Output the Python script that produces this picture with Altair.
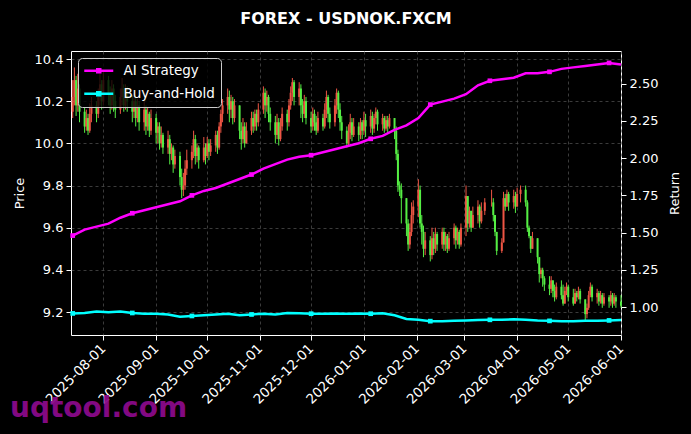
import altair as alt
import pandas as pd

TITLE = "FOREX - USDNOK.FXCM"
WATERMARK = "uqtool.com"
FIRST_DAY, LAST_DAY = "2025-07-14", "2026-06-01"
FIRST_OPEN = 10.15

# daily closes (business days, one row of 5 per week); None = no candle
CLOSE = [
    10.22, 10.30, 10.18, 10.26, 10.15,
    10.08, 10.12, 10.06, 10.14, 10.18,
    10.14, 10.22, 10.28, 10.20, 10.30,
    10.24, 10.18, 10.26, 10.20, 10.16,
    10.22, 10.26, 10.18, 10.24, 10.20,
    10.15, 10.20, 10.12, 10.18, 10.10,
    10.16, 10.08, 10.14, 10.06, 10.12,
    10.05, 10.08, 10.00, 10.04, 9.98,
    10.02, 9.95, 9.98, 9.90, 9.94,
    9.84, 9.78, 9.80, 9.88, 9.92,
    9.96, 10.02, 9.94, 9.98, 9.92,
    9.98, 9.94, 10.00, 9.96, 9.99,
    10.04, 9.98, 10.08, 10.14, 10.18,
    10.22, 10.16, 10.20, 10.12, 10.18,
    10.06, 10.02, 10.08, 10.00, 10.06,
    10.12, 10.08, 10.14, 10.10, 10.16,
    10.24, 10.18, 10.22, 10.14, 10.10,
    10.04, 10.10, 10.02, 10.08, 10.14,
    10.10, 10.18, 10.24, 10.29, 10.22,
    10.26, 10.18, 10.14, 10.20, 10.12,
    10.08, 10.14, 10.10, 10.06, 10.12,
    10.08, 10.16, 10.22, 10.14, 10.10,
    10.18, 10.24, 10.16, 10.10, 10.06,
    10.00, 10.05, 10.10, 10.04, 10.08,
    10.04, 10.10, 10.06, 10.11, 10.08,
    10.13, 10.07, 10.12, 10.15, 10.09,
    10.12, 10.07, 10.11, 10.08, 10.12,
    10.06, 9.95, 9.80, 9.78, 9.74,
    9.62, 9.52, 9.58, 9.66, 9.70,
    9.78, 9.62, 9.58, 9.50, 9.54,
    9.47, 9.55, 9.50, 9.57, 9.52,
    9.58, 9.52, 9.56, 9.50, 9.55,
    9.60, 9.54, 9.58, 9.52, 9.60,
    9.75, 9.62, 9.68, 9.60, 9.66,
    9.70, 9.63, 9.68, None, 9.72,
    None, 9.72, 9.66, 9.58, 9.49,
    9.53, 9.74, 9.70, 9.76, 9.72,
    9.75, 9.70, 9.76, None, 9.78,
    9.72, 9.60, 9.56, 9.50, 9.55,
    9.46, 9.38, 9.40, 9.36, 9.33,
    9.31, 9.35, 9.30, 9.27, 9.32,
    9.28, 9.24, 9.30, 9.32, 9.27,
    9.24, 9.29, 9.27, 9.30, 9.26,
    9.19, 9.22, 9.28, 9.32, 9.27,
    9.29, 9.25, 9.28, 9.24, 9.27,
    9.25, 9.28, 9.24, 9.27, 9.25,
    9.23,
]
HIGH = [
    10.30, 10.36, 10.32, 10.33, 10.28,
    10.17, 10.16, 10.14, 10.19, 10.22,
    10.20, 10.26, 10.33, 10.30, 10.34,
    10.32, 10.27, 10.30, 10.28, 10.23,
    10.26, 10.31, 10.28, 10.28, 10.27,
    10.23, 10.24, 10.22, 10.21, 10.20,
    10.20, 10.18, 10.17, 10.15, 10.16,
    10.14, 10.10, 10.10, 10.08, 10.05,
    10.06, 10.04, 10.00, 9.99, 9.97,
    9.96, 9.88, 9.86, 9.92, 9.97,
    9.99, 10.06, 10.04, 10.00, 9.99,
    10.03, 10.00, 10.03, 10.02, 10.02,
    10.06, 10.06, 10.10, 10.16, 10.21,
    10.26, 10.25, 10.23, 10.22, 10.21,
    10.18, 10.10, 10.12, 10.10, 10.10,
    10.15, 10.15, 10.16, 10.16, 10.19,
    10.27, 10.26, 10.25, 10.23, 10.17,
    10.13, 10.14, 10.12, 10.12, 10.17,
    10.16, 10.21, 10.27, 10.31, 10.30,
    10.29, 10.28, 10.21, 10.23, 10.22,
    10.15, 10.17, 10.16, 10.13, 10.15,
    10.14, 10.19, 10.25, 10.23, 10.17,
    10.21, 10.26, 10.25, 10.19, 10.13,
    10.08, 10.09, 10.14, 10.12, 10.12,
    10.10, 10.12, 10.11, 10.15, 10.14,
    10.16, 10.15, 10.14, 10.17, 10.16,
    10.14, 10.13, 10.13, 10.13, 10.14,
    10.12, 10.08, 9.97, 9.82, 9.81,
    9.68, 9.64, 9.62, 9.72, 9.73,
    9.83, 9.80, 9.66, 9.61, 9.58,
    9.56, 9.60, 9.58, 9.60, 9.58,
    9.60, 9.60, 9.58, 9.57, 9.58,
    9.62, 9.61, 9.60, 9.59, 9.62,
    9.80, 9.72, 9.70, 9.68, 9.70,
    9.73, 9.71, 9.72, None, 9.74,
    None, 9.78, 9.74, 9.62, 9.52,
    9.55, 9.77, 9.76, 9.78, 9.77,
    9.78, 9.77, 9.79, None, 9.80,
    9.80, 9.73, 9.61, 9.54, 9.58,
    9.48, 9.45, 9.41, 9.41, 9.37,
    9.37, 9.37, 9.35, 9.33, 9.34,
    9.35, 9.33, 9.32, 9.34, 9.33,
    9.31, 9.31, 9.30, 9.32, 9.31,
    9.24, 9.24, 9.30, 9.34, 9.33,
    9.31, 9.30, 9.30, 9.29, 9.29,
    9.28, 9.30, 9.29, 9.29, 9.28,
    9.28,
]
LOW = [
    10.12, 10.18, 10.13, 10.15, 10.10,
    10.05, 10.06, 10.04, 10.05, 10.10,
    10.10, 10.12, 10.18, 10.16, 10.18,
    10.18, 10.14, 10.16, 10.15, 10.12,
    10.14, 10.18, 10.15, 10.16, 10.15,
    10.10, 10.12, 10.08, 10.10, 10.06,
    10.06, 10.04, 10.06, 10.03, 10.04,
    10.00, 10.00, 9.97, 9.98, 9.95,
    9.95, 9.90, 9.92, 9.86, 9.88,
    9.80, 9.74, 9.75, 9.78, 9.85,
    9.88, 9.93, 9.90, 9.91, 9.88,
    9.91, 9.90, 9.93, 9.92, 9.94,
    9.96, 9.95, 9.97, 10.05, 10.10,
    10.14, 10.10, 10.12, 10.09, 10.10,
    10.02, 9.97, 10.00, 9.98, 10.00,
    10.04, 10.05, 10.06, 10.06, 10.08,
    10.14, 10.12, 10.15, 10.10, 10.06,
    10.00, 10.02, 9.99, 10.01, 10.06,
    10.06, 10.08, 10.16, 10.20, 10.18,
    10.18, 10.12, 10.10, 10.12, 10.09,
    10.05, 10.06, 10.06, 10.04, 10.05,
    10.06, 10.07, 10.12, 10.10, 10.07,
    10.08, 10.14, 10.12, 10.06, 10.02,
    9.98, 9.99, 10.02, 10.01, 10.03,
    10.01, 10.02, 10.02, 10.04, 10.03,
    10.05, 10.04, 10.05, 10.09, 10.06,
    10.06, 10.05, 10.06, 10.05, 10.07,
    10.02, 9.92, 9.77, 9.75, 9.62,
    9.56, 9.49, 9.50, 9.56, 9.62,
    9.65, 9.60, 9.52, 9.46, 9.47,
    9.44, 9.45, 9.47, 9.48, 9.49,
    9.50, 9.49, 9.49, 9.48, 9.49,
    9.52, 9.50, 9.52, 9.50, 9.51,
    9.56, 9.58, 9.60, 9.58, 9.60,
    9.62, 9.60, 9.62, None, 9.66,
    None, 9.70, 9.63, 9.56, 9.47,
    9.48, 9.66, 9.68, 9.70, 9.68,
    9.69, 9.67, 9.70, None, 9.72,
    9.70, 9.58, 9.55, 9.48, 9.52,
    9.43, 9.34, 9.36, 9.32, 9.30,
    9.28, 9.29, 9.27, 9.25, 9.26,
    9.26, 9.23, 9.24, 9.28, 9.25,
    9.23, 9.24, 9.25, 9.26, 9.24,
    9.16, 9.17, 9.21, 9.27, 9.25,
    9.24, 9.23, 9.24, 9.22, 9.23,
    9.22, 9.23, 9.22, 9.23, 9.22,
    9.22,
]

SERIES = ["AI Strategy", "Buy-and-Hold"]
# weekly (Mondays) return values
AI_STRATEGY = [
    1.48, 1.52, 1.54, 1.56, 1.60, 1.63, 1.65, 1.67, 1.69, 1.71,
    1.75, 1.78, 1.80, 1.83, 1.86, 1.89, 1.93, 1.96, 1.99, 2.01,
    2.02, 2.04, 2.06, 2.08, 2.10, 2.13, 2.15, 2.19, 2.22, 2.27,
    2.36, 2.38, 2.40, 2.43, 2.49, 2.52, 2.53, 2.54, 2.57, 2.57,
    2.58, 2.60, 2.61, 2.62, 2.63, 2.64, 2.63,
]
BUY_AND_HOLD = [
    0.957, 0.960, 0.970, 0.965, 0.970, 0.960, 0.955, 0.955, 0.950, 0.935,
    0.940, 0.945, 0.950, 0.955, 0.945, 0.950, 0.955, 0.950, 0.960, 0.958,
    0.955, 0.955, 0.957, 0.955, 0.957, 0.955, 0.958, 0.945, 0.920, 0.915,
    0.905, 0.905, 0.907, 0.910, 0.912, 0.914, 0.915, 0.917, 0.915, 0.910,
    0.907, 0.905, 0.905, 0.907, 0.908, 0.910, 0.912,
]

X_TICKS = [(2025, 8), (2025, 9), (2025, 10), (2025, 11), (2025, 12), (2026, 1),
           (2026, 2), (2026, 3), (2026, 4), (2026, 5), (2026, 6)]
PRICE_TICKS = [9.2, 9.4, 9.6, 9.8, 10.0, 10.2, 10.4]
RETURN_TICKS = [1.0, 1.25, 1.5, 1.75, 2.0, 2.25, 2.5]

RED, GREEN = "#ee5544", "#55ee44"
MAGENTA, CYAN = "#ff00ff", "#00ffff"
FONT = "DejaVu Sans"

# ---- tables ----
days = pd.bdate_range(FIRST_DAY, LAST_DAY)
rows = []
prev = FIRST_OPEN
for d, c, h, l in zip(days, CLOSE, HIGH, LOW):
    if c is None:
        continue
    rows.append({
        "date": d.strftime("%Y-%m-%d"),
        "open": prev, "close": c,
        "high": max(h, prev, c), "low": min(l, prev, c),
        "dir": "up" if c >= prev else "down",
    })
    prev = c
candles = pd.DataFrame(rows)

n = len(AI_STRATEGY)
weeks = list(pd.date_range(FIRST_DAY, periods=n, freq="7D").strftime("%Y-%m-%d"))
lines = pd.DataFrame({
    "date": weeks * 2,
    "series": [SERIES[0]] * n + [SERIES[1]] * n,
    "value": AI_STRATEGY + BUY_AND_HOLD,
    "idx": list(range(n)) * 2,
})

# ---- scales / axes ----
x_scale = alt.Scale(type="utc", domain=[
    alt.DateTime(year=2025, month=7, date=13, utc=True),
    alt.DateTime(year=2026, month=6, date=1, utc=True)])
x_axis = alt.Axis(
    title=None, grid=True, labelOverlap=False, labelFontSize=13.5,
    values=[alt.DateTime(year=y, month=m, date=1, utc=True) for y, m in X_TICKS],
    labelExpr="utcFormat(datum.value, '%Y-%m-%d')",
    labelAngle=-45, labelAlign="right", labelBaseline="middle", labelPadding=6)
x_enc = alt.X("date:T", scale=x_scale, axis=x_axis)

price_scale = alt.Scale(domain=[9.091, 10.438], zero=False, nice=False)
price_axis = alt.Axis(title="Price", values=PRICE_TICKS, format=".1f", grid=True, titlePadding=8)
ret_scale = alt.Scale(domain=[0.812, 2.72], zero=False, nice=False)
ret_axis = alt.Axis(title="Return", values=RETURN_TICKS, format=".2f", grid=False,
                    orient="right", titlePadding=24, titleAngle=270)

dir_color = alt.Color("dir:N", scale=alt.Scale(domain=["up", "down"], range=[RED, GREEN]), legend=None)

base_c = alt.Chart(candles)
wick = base_c.mark_rule(strokeWidth=1).encode(
    x=x_enc, y=alt.Y("low:Q", scale=price_scale, axis=price_axis), y2="high:Q", color=dir_color)
body = base_c.mark_rule(strokeWidth=2).encode(
    x=x_enc, y=alt.Y("open:Q", scale=price_scale, axis=price_axis), y2="close:Q", color=dir_color)
price_layer = alt.layer(wick, body)

LEGEND_SYMBOL = "M-1.3,0L4.5,0M1.3,-0.3L1.9,-0.3L1.9,0.3L1.3,0.3Z"
y_ret = alt.Y("value:Q", scale=ret_scale, axis=ret_axis)
base_l = alt.Chart(lines)
line = base_l.mark_line(strokeWidth=2.5).encode(
    x=x_enc, y=y_ret, detail="series:N",
    color=alt.Color("series:N", scale=alt.Scale(domain=SERIES, range=[MAGENTA, CYAN]),
                    legend=alt.Legend(
                        title=None, orient="none", legendX=7, legendY=7,
                        symbolType=LEGEND_SYMBOL, symbolSize=100, symbolStrokeWidth=2.5,
                        labelColor="white", labelFont=FONT, labelFontSize=13.5,
                        labelOffset=26, fillColor="rgba(0,0,0,0.8)", strokeColor="#cccccc",
                        cornerRadius=4, padding=6, rowPadding=8)))
mk_ai = base_l.mark_square(size=22, filled=True, opacity=1, color=MAGENTA).encode(
    x=x_enc, y=y_ret).transform_filter(
    f"datum.idx % 5 == 0 && datum.series == '{SERIES[0]}'")
mk_bh = base_l.mark_square(size=22, filled=True, opacity=1, color=CYAN).encode(
    x=x_enc, y=y_ret).transform_filter(
    f"datum.idx % 5 == 0 && datum.series == '{SERIES[1]}'")
ret_layer = alt.layer(line, mk_ai, mk_bh)

wm = alt.Chart(pd.DataFrame({"t": [WATERMARK]})).mark_text(
    font=FONT, fontSize=28, fontWeight="bold", color="#8a0a8a", opacity=0.95,
    align="left", baseline="alphabetic").encode(
    text="t:N", x=alt.value(-61), y=alt.value(366))

chart = alt.layer(price_layer, ret_layer, wm).resolve_scale(
    y="independent", color="independent"
).properties(
    width=550, height=284,
    title=alt.TitleParams(TITLE, color="white", font=FONT, fontSize=16, fontWeight="bold",
                          anchor="middle", offset=11, baseline="alphabetic"),
    padding={"left": 71, "top": 51, "right": 70, "bottom": 99},
    autosize=alt.AutoSizeParams(type="none"),
).configure(background="black").configure_view(
    stroke="white", strokeWidth=1
).configure_axis(
    labelColor="white", titleColor="white", labelFont=FONT, titleFont=FONT,
    labelFontSize=13, titleFontSize=13, titleFontWeight="normal",
    tickColor="white", tickSize=5, domain=False, labelPadding=3,
    gridColor="#555555", gridDash=[3, 3], gridWidth=0.7,
)

chart.save("out.html", embed_options={"renderer": "svg", "actions": False})
